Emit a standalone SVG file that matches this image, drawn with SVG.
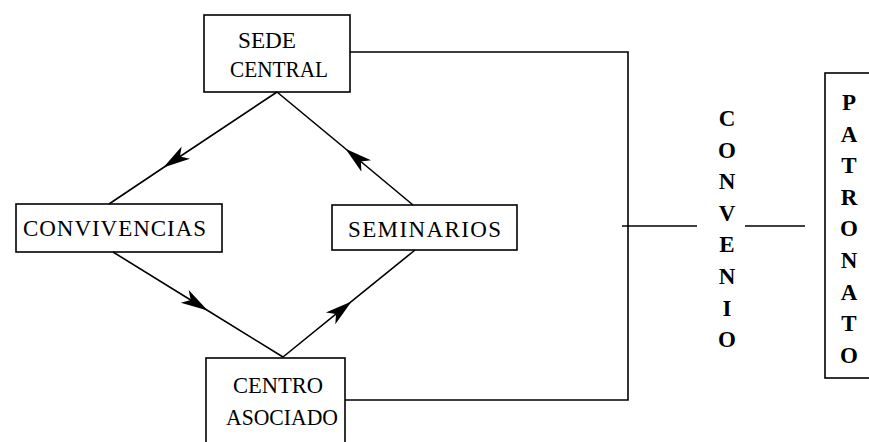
<svg xmlns="http://www.w3.org/2000/svg" width="869" height="442" viewBox="0 0 869 442">
<style>
.box{fill:none;stroke:#000;stroke-width:1.6}
.ln{fill:none;stroke:#000;stroke-width:1.6}
.t{font-family:"Liberation Serif","Times New Roman",serif;font-size:23px;fill:#000}
.v{font-family:"Liberation Serif","Times New Roman",serif;font-size:23px;fill:#000;text-anchor:middle;font-weight:bold}
</style>
<defs>
<marker id="ah" markerUnits="userSpaceOnUse" markerWidth="40" markerHeight="24" viewBox="-30 -12 34 24" refX="0" refY="0" orient="auto" overflow="visible">
<path d="M2,0 L-25,-7.5 L-18,0 L-25,7.5 Z" fill="#000"/>
</marker>
</defs>
<rect width="869" height="442" fill="#fff"/>
<g id="connectors">
<path class="ln" d="M277,92 L165,166.5 L109,204" marker-mid="url(#ah)"/>
<path class="ln" d="M413,205 L347,150 L277,92" marker-mid="url(#ah)"/>
<path class="ln" d="M113,252 L206,309.5 L283,357" marker-mid="url(#ah)"/>
<path class="ln" d="M283,357 L350,302.7 L415,250" marker-mid="url(#ah)"/>
<path class="ln" d="M350,52 L628,52 L628,400 L345,400"/>
<line class="ln" x1="622" y1="226" x2="697" y2="226"/>
<line class="ln" x1="745" y1="226" x2="805" y2="226"/>
</g>
<g id="sede-central">
<rect class="box" x="204" y="15" width="146" height="77"/>
<text class="t" x="238" y="48" textLength="58" lengthAdjust="spacingAndGlyphs">SEDE</text>
<text class="t" x="230" y="77" textLength="98" lengthAdjust="spacingAndGlyphs">CENTRAL</text>
</g>
<g id="convivencias">
<rect class="box" x="16" y="204" width="206" height="48"/>
<text class="t" x="23" y="236" textLength="183" lengthAdjust="spacing">CONVIVENCIAS</text>
</g>
<g id="seminarios">
<rect class="box" x="332" y="205" width="185" height="45"/>
<text class="t" x="348" y="237" textLength="153" lengthAdjust="spacing">SEMINARIOS</text>
</g>
<g id="centro-asociado">
<rect class="box" x="206" y="358" width="139" height="100"/>
<text class="t" x="233" y="393" textLength="90" lengthAdjust="spacingAndGlyphs">CENTRO</text>
<text class="t" x="226" y="425" textLength="112" lengthAdjust="spacingAndGlyphs">ASOCIADO</text>
</g>
<g id="convenio">
<text class="v" x="727" y="126">C</text>
<text class="v" x="727" y="158">O</text>
<text class="v" x="727" y="189">N</text>
<text class="v" x="727" y="221">V</text>
<text class="v" x="727" y="252">E</text>
<text class="v" x="727" y="284">N</text>
<text class="v" x="727" y="316">I</text>
<text class="v" x="727" y="347">O</text>
</g>
<g id="patronato">
<rect class="box" x="825" y="73" width="60" height="305"/>
<text class="v" x="849" y="110">P</text>
<text class="v" x="849" y="142">A</text>
<text class="v" x="849" y="173">T</text>
<text class="v" x="849" y="205">R</text>
<text class="v" x="849" y="236">O</text>
<text class="v" x="849" y="268">N</text>
<text class="v" x="849" y="300">A</text>
<text class="v" x="849" y="331">T</text>
<text class="v" x="849" y="363">O</text>
</g>
</svg>
